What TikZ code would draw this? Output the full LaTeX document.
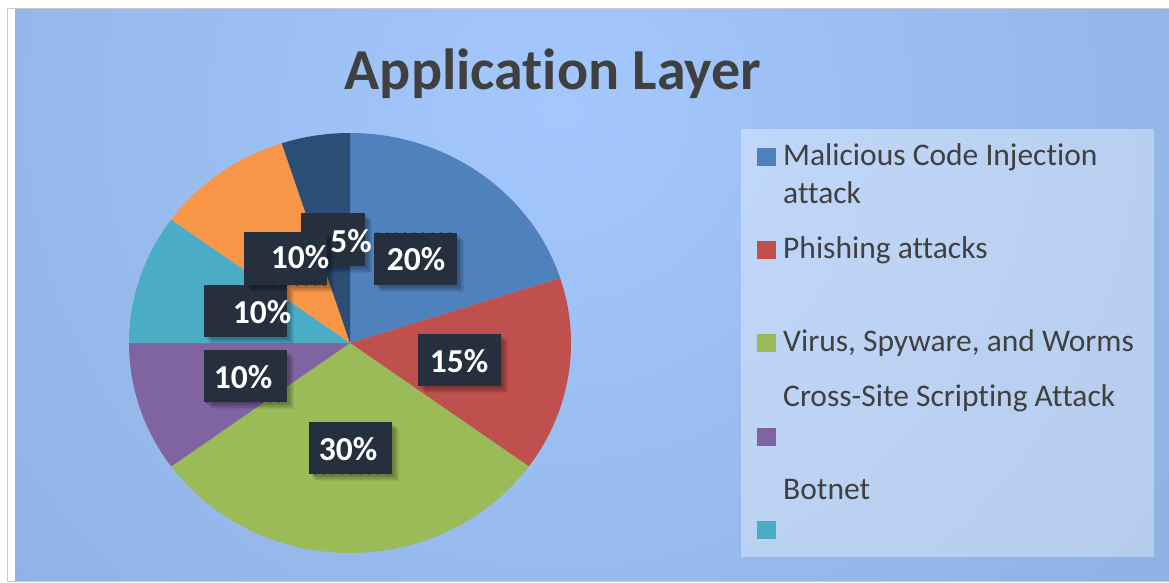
\documentclass[tikz,border=0pt]{standalone}
\usepackage{fontspec}
\setmainfont[Ligatures=NoCommon]{Carlito}
\usetikzlibrary{patterns.meta}

\definecolor{frameline}{HTML}{C8C8C8}
\definecolor{bginner}{HTML}{A4C8FD}
\definecolor{bgouter}{HTML}{82A2D2}
\definecolor{inktext}{HTML}{404040}
\definecolor{sliceblue}{HTML}{4F81BD}
\definecolor{slicered}{HTML}{C0504D}
\definecolor{slicegreen}{HTML}{9BBB59}
\definecolor{slicepurple}{HTML}{8064A2}
\definecolor{sliceteal}{HTML}{4BACC6}
\definecolor{sliceorange}{HTML}{F79646}
\definecolor{slicenavy}{HTML}{2C4D75}
\definecolor{labelfill}{HTML}{262F3E}
\definecolor{labeldots}{HTML}{2E3849}

\tikzset{
  titletext/.style={text=inktext, font=\fontsize{58}{66}\selectfont\bfseries, inner sep=0pt},
  softshadow/.style={preaction={fill=black, fill opacity=0.06, transform canvas={xshift=#1, yshift=-#1}}},
  labelbox/.style={fill=labelfill, draw=none, inner sep=0pt,
    softshadow=7pt, softshadow=6pt, softshadow=5pt, softshadow=4pt, softshadow=3pt, softshadow=2pt,
    postaction={pattern={Dots[distance=9pt, radius=1pt]}, pattern color=labeldots}},
  pcttext/.style={text=white, font=\fontsize{33.5}{38}\selectfont\bfseries, inner sep=0pt},
  legendbox/.style={fill=white, fill opacity=0.35, draw=none},
  legtext/.style={text=inktext, font=\fontsize{31.5}{38}\selectfont, inner sep=0pt, anchor=base west},
  legkey/.style={draw=none, inner sep=0pt, minimum width=19pt, minimum height=18pt},
  pieslice/.style={x radius=221pt, y radius=210pt},
}

\begin{document}
\begin{tikzpicture}[x=1pt, y=-1pt]
\useasboundingbox (0,0) rectangle (1169,583);
\fill[white] (0,0) rectangle (1169,583);

% chart area background
\begin{scope}
  \clip (15,9) rectangle (1169,580.5);
  \fill[bgouter] (15,9) rectangle (1169,580.5);
  \shade[inner color=bginner, outer color=bgouter] (560,110) circle (1250);
\end{scope}
\draw[frameline, line width=1.6pt] (7.5,581.6) -- (7.5,8.4) -- (1180,8.4);
\draw[frameline, line width=1.6pt] (7.5,581.6) -- (1180,581.6);

% title
\node[titletext, anchor=base] (title) at (553,90) {Application Layer};

% pie slices (radii given as lengths, angles counter-clockwise from east)
\begin{scope}[shift={(350,343)}]
  \fill[sliceblue]   (0,0) -- (90:221pt and 210pt)   arc[pieslice, start angle=90,   end angle=18] -- cycle;
  \fill[slicered]    (0,0) -- (18:221pt and 210pt)   arc[pieslice, start angle=18,   end angle=-36] -- cycle;
  \fill[slicegreen]  (0,0) -- (-36:221pt and 210pt)  arc[pieslice, start angle=-36,  end angle=-144] -- cycle;
  \fill[slicepurple] (0,0) -- (-144:221pt and 210pt) arc[pieslice, start angle=-144, end angle=-180] -- cycle;
  \fill[sliceteal]   (0,0) -- (180:221pt and 210pt)  arc[pieslice, start angle=180,  end angle=144] -- cycle;
  \fill[sliceorange] (0,0) -- (144:221pt and 210pt)  arc[pieslice, start angle=144,  end angle=108] -- cycle;
  \fill[slicenavy]   (0,0) -- (108:221pt and 210pt)  arc[pieslice, start angle=108,  end angle=90] -- cycle;
\end{scope}

% data labels
\node[labelbox, minimum width=83pt, minimum height=52pt] (boxA) at (415.5,258.5) {};
\node[pcttext] (pctA) at (416,259) {20\%};
\node[labelbox, minimum width=83pt, minimum height=52pt] (boxB) at (459.5,360) {};
\node[pcttext] (pctB) at (459,361) {15\%};
\node[labelbox, minimum width=83pt, minimum height=52pt] (boxC) at (350.5,448) {};
\node[pcttext] (pctC) at (348,449) {30\%};
\node[labelbox, minimum width=83pt, minimum height=52pt] (boxD) at (245.5,376) {};
\node[pcttext] (pctD) at (243,377) {10\%};
\node[labelbox, minimum width=83pt, minimum height=52pt] (boxE) at (245.5,311) {};
\node[pcttext] (pctE) at (262,312) {10\%};
\node[labelbox, minimum width=64pt, minimum height=53pt] (boxG) at (333,239.5) {};
\node[labelbox, minimum width=83pt, minimum height=53pt] (boxF) at (285.5,258.5) {};
\node[pcttext] (pctF) at (300,257) {10\%};
\node[pcttext] (pctG) at (351,241) {5\%};

% legend
\fill[legendbox] (741,129) rectangle (1154,557);
\node[legkey, fill=sliceblue]   (keyA) at (766.5,157) {};
\node[legtext] (legA1) at (783,165) {Malicious Code Injection};
\node[legtext] (legA2) at (783,203) {attack};
\node[legkey, fill=slicered]    (keyB) at (766.5,249.5) {};
\node[legtext] (legB) at (783,258) {Phishing attacks};
\node[legkey, fill=slicegreen]  (keyC) at (766.5,343) {};
\node[legtext] (legC) at (783,351) {Virus, Spyware, and Worms};
\node[legtext] (legD) at (783,406) {Cross-Site Scripting Attack};
\node[legkey, fill=slicepurple] (keyD) at (766.5,437) {};
\node[legtext] (legE) at (783,499) {Botnet};
\node[legkey, fill=sliceteal]   (keyE) at (766.5,530) {};
\end{tikzpicture}
\end{document}
